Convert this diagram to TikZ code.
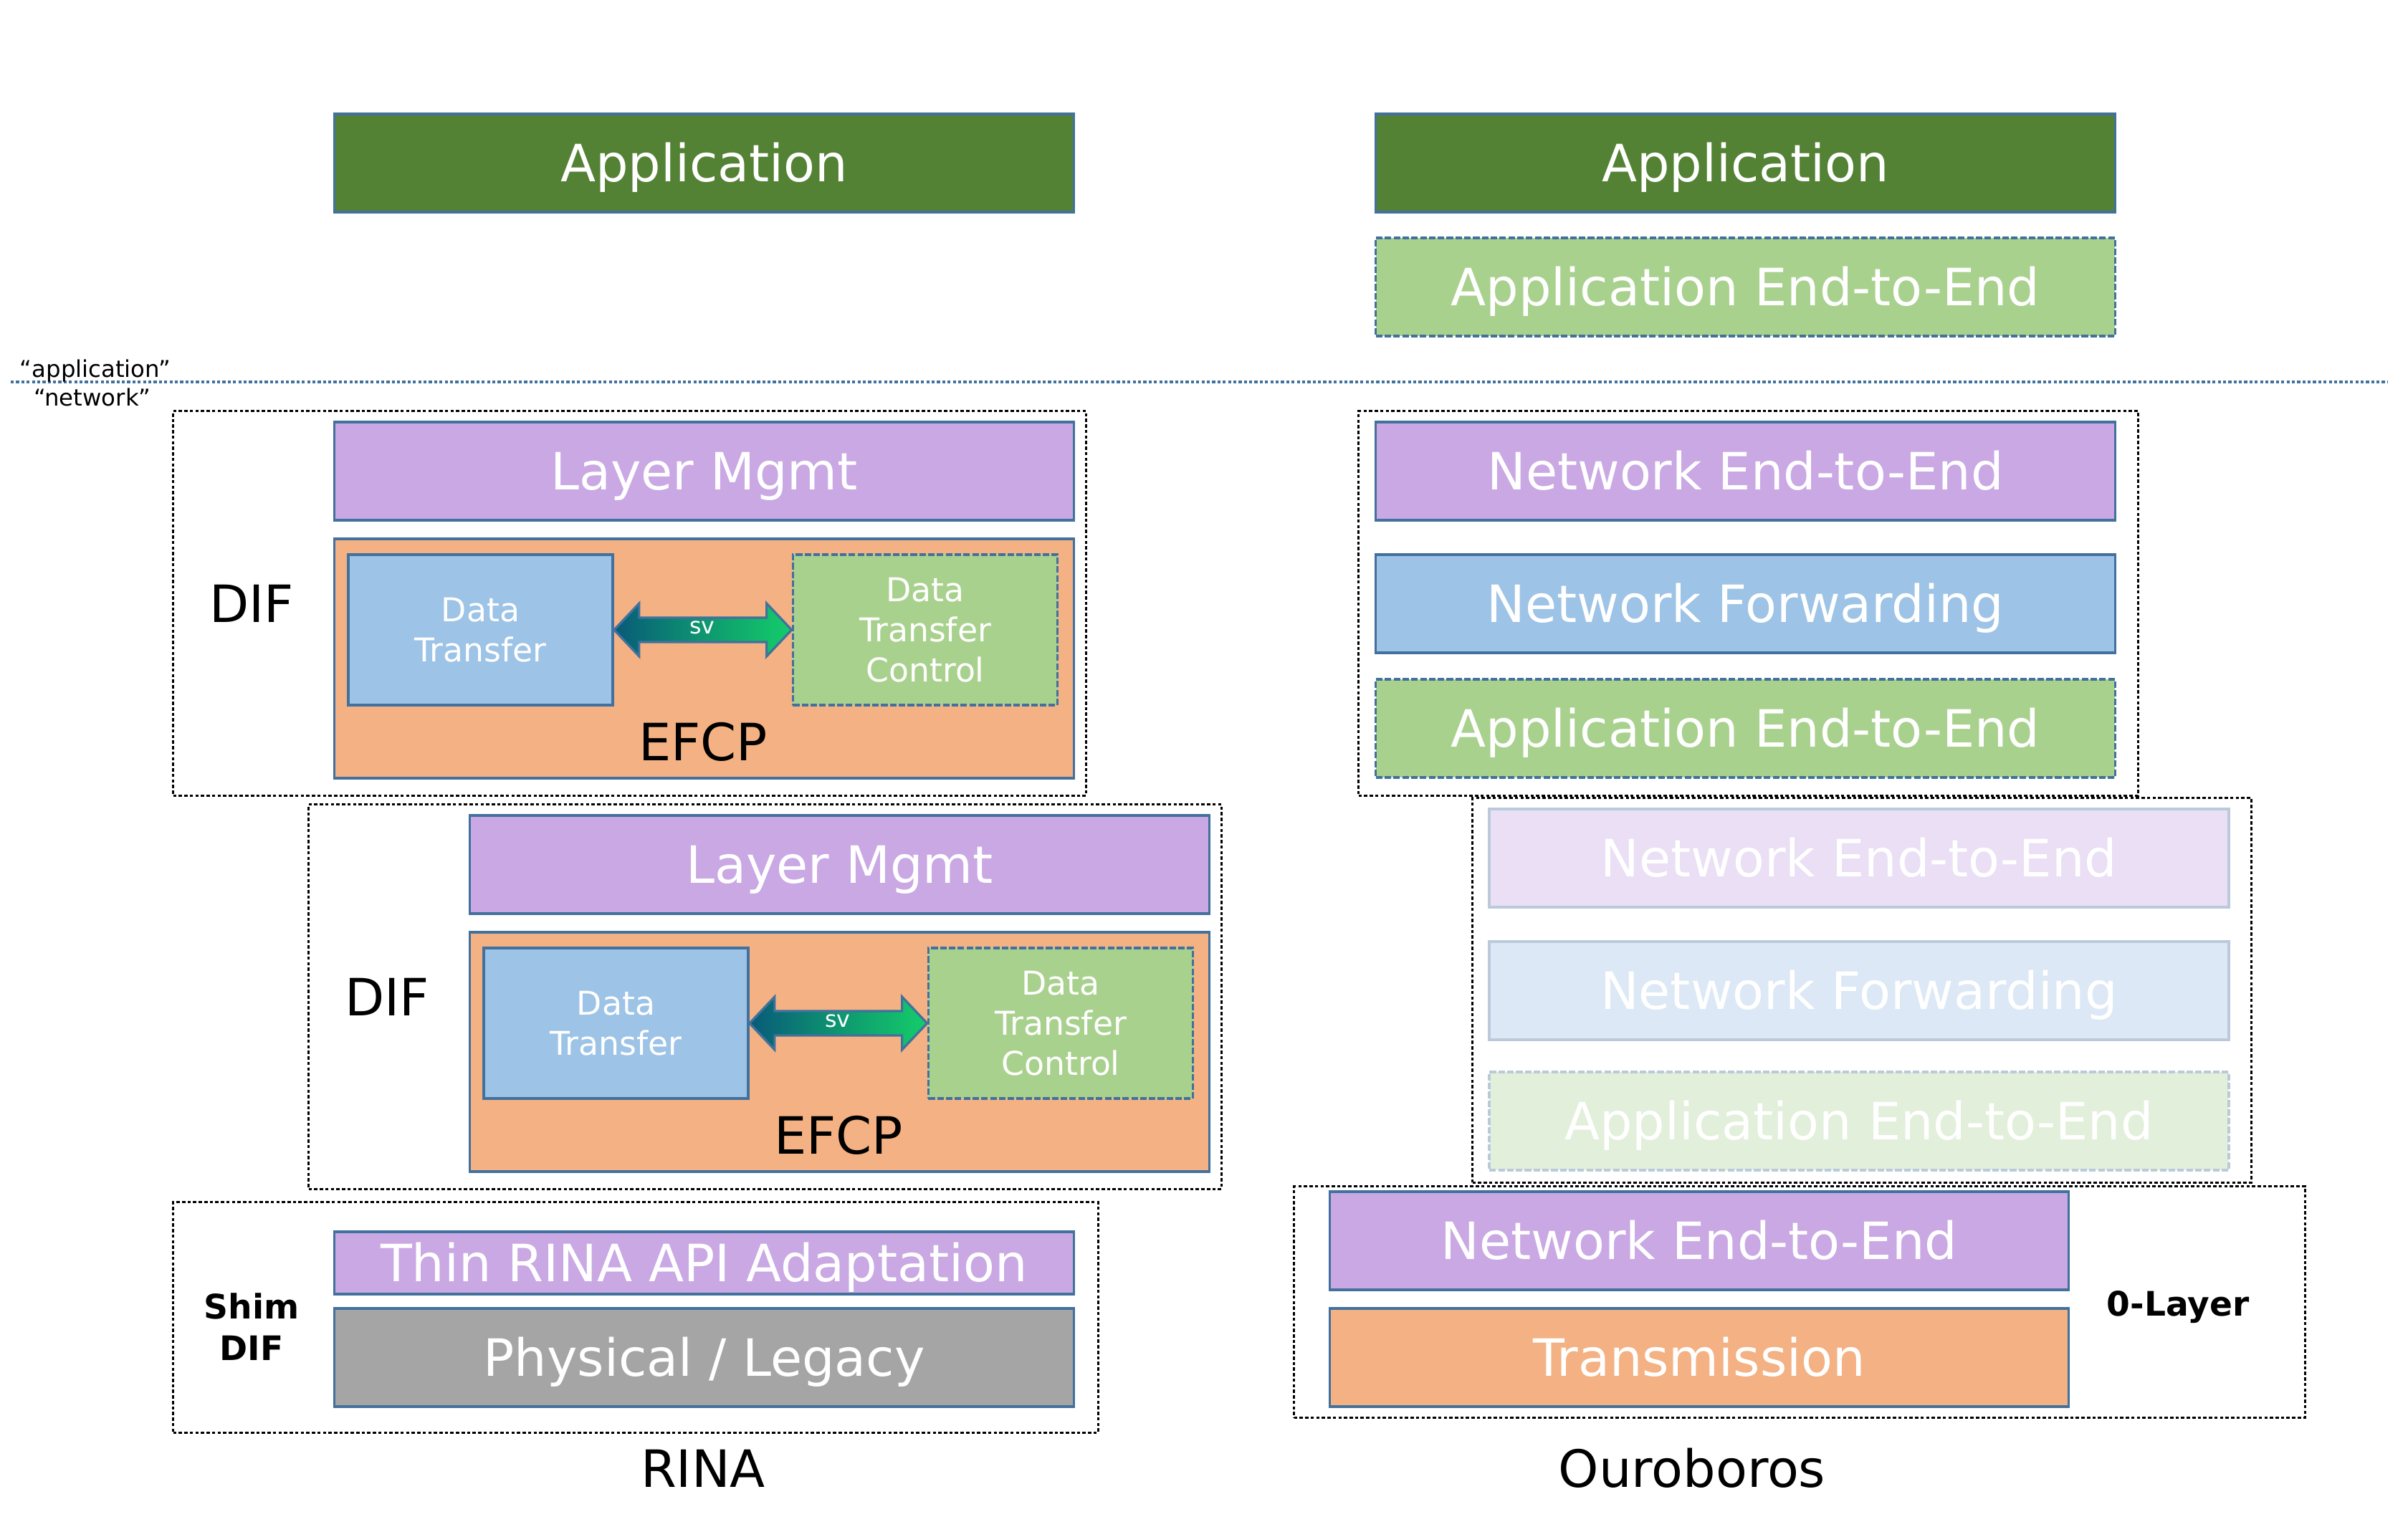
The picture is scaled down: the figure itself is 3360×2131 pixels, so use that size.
\documentclass[tikz,border=0pt]{standalone}
\usepackage{fontspec}
\setmainfont{DejaVu Sans}
\usetikzlibrary{calc}
\definecolor{appgreen}{HTML}{548235}
\definecolor{ltgreen}{HTML}{A9D18E}
\definecolor{lavender}{HTML}{C9A8E4}
\definecolor{ltblue}{HTML}{9DC3E6}
\definecolor{peach}{HTML}{F4B183}
\definecolor{legacygray}{HTML}{A5A5A5}
\definecolor{edge}{HTML}{41719C}
\definecolor{fadeedge}{HTML}{BACADB}
\definecolor{fadepurple}{HTML}{EADFF4}
\definecolor{fadeblue}{HTML}{DCE8F5}
\definecolor{fadegreen}{HTML}{E2EFDA}
\definecolor{arrowdark}{RGB}{8,90,120}
\definecolor{arrowlight}{RGB}{20,205,105}
\begin{document}
\begin{tikzpicture}[x=0.01cm,y=-0.01cm,
  layer/.style={draw=edge, line width=1pt, text=white, font=\fontsize{20.4}{24}\selectfont,
    inner sep=0pt, text height=18.6pt, text depth=4pt, minimum width=10.31cm, minimum height=1.37cm},
  fadelayer/.style={layer, draw=fadeedge},
  dashedge/.style={dash pattern=on 2.6pt off 0.9pt},
  smallbox/.style={draw=edge, line width=1pt, text=white, font=\fontsize{13}{15.9}\selectfont,
    align=center, inner sep=0pt, minimum width=3.69cm, minimum height=2.10cm},
  difbox/.style={draw=black, line width=0.9pt, dash pattern=on 1.3pt off 0.9pt, inner sep=0pt},
  biglabel/.style={text=black, font=\fontsize{20.4}{24}\selectfont, inner sep=0pt},
  boldlabel/.style={text=black, font=\fontsize{13.4}{16.5}\selectfont\bfseries, align=center, inner sep=0pt},
  tinylabel/.style={text=black, font=\fontsize{9.2}{11}\selectfont, inner sep=0pt, anchor=base},
  svlabel/.style={text=white, font=\fontsize{9}{11}\selectfont, inner sep=0pt},
  svarrow/.style={draw=edge, line width=0.9pt, left color=arrowdark, right color=arrowlight, middle color={rgb,255:red,14;green,150;blue,112}}
]
\fill[white] (0,0) rectangle (3360,2131);
\useasboundingbox (0,0) rectangle (3360,2131);

% ---------- separator ----------
\coordinate (sepL) at (15,533);
\coordinate (sepR) at (3332,533);
\draw[edge, line width=0.9pt, dash pattern=on 1.2pt off 0.9pt] (sepL) -- (sepR);
\node[tinylabel] (lblapp) at (133,527) {“application”};
\node[tinylabel] (lblnet) at (129,567) {“network”};

% ---------- RINA column ----------
\node[layer, fill=appgreen] (appL) at (982.5,227.5) {Application};

% DIF 1
\node[difbox, minimum width=12.73cm, minimum height=5.36cm] (dif1) at (878.5,842) {};
\node[layer, fill=lavender] (lm1) at (982.5,657.5) {Layer Mgmt};
\node[layer, fill=peach, minimum height=3.34cm] (efcp1) at (982.5,919) {};
\node[smallbox, fill=ltblue] (dt1) at (670.5,879) {Data\\Transfer};
\node[smallbox, fill=ltgreen, dashedge] (dtc1) at (1291,879) {Data\\Transfer\\Control};
\draw[svarrow] (dt1.east) -- ++(35,-37) -- ++(0,20) -- ($(dtc1.west)+(-35,-17)$) -- ++(0,-20)
  -- (dtc1.west) -- ++(-35,37) -- ++(0,-20) -- ($(dt1.east)+(35,17)$) -- ++(0,20) -- cycle;
\node[svlabel] (sv1) at (980,876) {sv};
\node[biglabel] (efcplab1) at (981,1035) {EFCP};
\node[biglabel] (diflab1) at (351,842) {DIF};

% DIF 2
\node[difbox, minimum width=12.73cm, minimum height=5.36cm] (dif2) at (1067.5,1391) {};
\node[layer, fill=lavender] (lm2) at (1171.5,1206.5) {Layer Mgmt};
\node[layer, fill=peach, minimum height=3.34cm] (efcp2) at (1171.5,1468) {};
\node[smallbox, fill=ltblue] (dt2) at (859.5,1428) {Data\\Transfer};
\node[smallbox, fill=ltgreen, dashedge] (dtc2) at (1480,1428) {Data\\Transfer\\Control};
\draw[svarrow] (dt2.east) -- ++(35,-37) -- ++(0,20) -- ($(dtc2.west)+(-35,-17)$) -- ++(0,-20)
  -- (dtc2.west) -- ++(-35,37) -- ++(0,-20) -- ($(dt2.east)+(35,17)$) -- ++(0,20) -- cycle;
\node[svlabel] (sv2) at (1169,1425) {sv};
\node[biglabel] (efcplab2) at (1170,1584) {EFCP};
\node[biglabel] (diflab2) at (540,1391) {DIF};

% Shim DIF
\node[difbox, minimum width=12.90cm, minimum height=3.21cm] (shim) at (887,1838.5) {};
\node[layer, fill=lavender, minimum height=0.87cm] (thin) at (982.5,1762.5) {Thin RINA API Adaptation};
\node[layer, fill=legacygray] (phys) at (982.5,1894.5) {Physical / Legacy};
\node[boldlabel] (shimlab) at (351,1852) {Shim\\DIF};

\node[biglabel] (rina) at (981,2049) {RINA};

% ---------- Ouroboros column ----------
\node[layer, fill=appgreen] (appR) at (2435.5,227.5) {Application};
\node[layer, fill=ltgreen, dashedge] (aeR) at (2435.5,400.5) {Application End-to-End};

\node[difbox, minimum width=10.87cm, minimum height=5.36cm] (dif3) at (2439.5,842) {};
\node[layer, fill=lavender] (ne1) at (2435.5,657.5) {Network End-to-End};
\node[layer, fill=ltblue] (nf1) at (2435.5,842.5) {Network Forwarding};
\node[layer, fill=ltgreen, dashedge] (ae1) at (2435.5,1016.5) {Application End-to-End};

\node[difbox, minimum width=10.86cm, minimum height=5.36cm] (dif4) at (2598,1382) {};
\node[fadelayer, fill=fadepurple] (ne2) at (2594,1197.5) {Network End-to-End};
\node[fadelayer, fill=fadeblue] (nf2) at (2594,1382.5) {Network Forwarding};
\node[fadelayer, fill=fadegreen, dashedge] (ae2) at (2594,1564.5) {Application End-to-End};

\node[difbox, minimum width=14.10cm, minimum height=3.22cm] (zero) at (2511,1817) {};
\node[layer, fill=lavender, minimum width=10.30cm] (ne0) at (2371,1731.5) {Network End-to-End};
\node[layer, fill=peach, minimum width=10.30cm] (trans) at (2371,1894.5) {Transmission};
\node[boldlabel] (zerolab) at (3039,1824) {0-Layer};

\node[biglabel] (ouro) at (2361,2049) {Ouroboros};
\end{tikzpicture}
\end{document}
